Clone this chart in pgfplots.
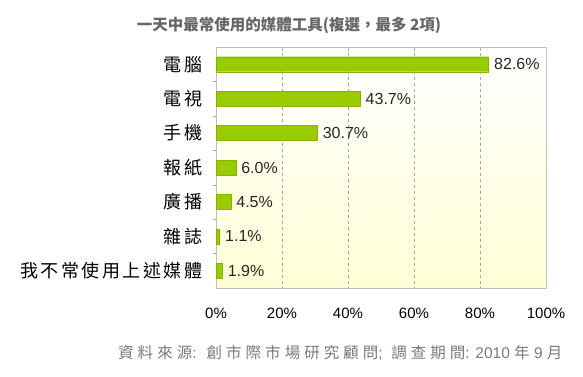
\documentclass[border=0pt]{standalone}
\usepackage{pgfplots}
\pgfplotsset{compat=1.18}
\usepackage{fontspec}
\setmainfont{Liberation Sans}
\newfontfamily\cjk{Noto Sans CJK TC}
\newfontfamily\cjkwide[LetterSpace=14]{Noto Sans CJK TC}
\newfontfamily\cjkfoot[LetterSpace=26]{Noto Sans CJK TC}
\definecolor{barfill}{HTML}{99CC00}
\definecolor{bardraw}{HTML}{88B000}
\definecolor{bgy}{HTML}{FFFFD6}
\definecolor{titlegray}{HTML}{666666}
\definecolor{foot}{HTML}{7A7A7A}
\begin{document}
\begin{tikzpicture}[x=1pt,y=1pt]
\useasboundingbox (0,0) rectangle (583,376);
\begin{axis}[
  at={(216pt,88pt)}, anchor=south west,
  scale only axis, width=330pt, height=241pt,
  xbar, bar width=15pt,
  xmin=0, xmax=100, ymin=-0.5, ymax=6.5, y dir=reverse,
  axis background/.style={top color=white, bottom color=bgy},
  axis line style={draw=black!25},
  xtick={0,20,40,60,80,100},
  xticklabels={0\%,20\%,40\%,60\%,80\%,100\%},
  xticklabel style={font=\fontsize{15}{15}\selectfont, text=black, yshift=-16pt},
  x tick style={draw=black!30},
  major tick length=4pt,
  xtick pos=upper,
  xticklabel pos=lower,
  xmajorgrids, grid style={draw=black!35, dashed},
  ytick={0,1,2,3,4,5,6},
  yticklabels={電腦,電視,手機,報紙,廣播,雜誌,我不常使用上述媒體},
  yticklabel style={font=\cjkwide\fontsize{18}{18}\selectfont, text=black, xshift=-6pt},
  y tick style={draw=none},
  extra y ticks={0.5,1.5,2.5,3.5,4.5,5.5},
  extra y tick labels={},
  extra y tick style={y tick style={draw=black!35}, major tick length=3pt, ytick pos=left, grid=none},
  nodes near coords={\pgfmathprintnumber[fixed,fixed zerofill,precision=1,assume math mode=true]{\pgfplotspointmeta}\%},
  nodes near coords align={horizontal},
  every node near coord/.append style={font=\fontsize{16}{16}\selectfont, text=black!85, xshift=2pt},
]
\addplot[fill=barfill, draw=bardraw] coordinates {(82.6,0) (43.7,1) (30.7,2) (6.0,3) (4.5,4) (1.1,5) (1.9,6)};
\end{axis}
\node[font=\cjk\bfseries\fontsize{15.5}{15.5}\selectfont, text=titlegray] at (289,351) {一天中最常使用的媒體工具(複選，最多 2項)};
\node[font=\fontsize{15.5}{15.5}\selectfont, text=foot, anchor=east] at (566,23) {{\cjkfoot 資料來源}: \ {\cjkfoot 創市際市場研究顧問}; \ {\cjkfoot 調查期間}: 2010 {\cjk 年} 9 {\cjk 月}};
\end{tikzpicture}
\end{document}
